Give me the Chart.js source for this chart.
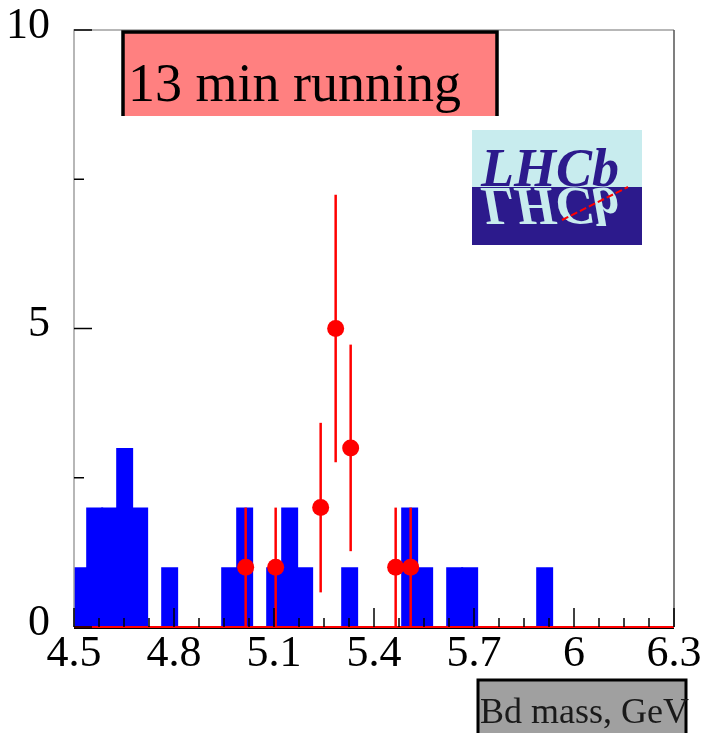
<!DOCTYPE html>
<html>
<head>
<meta charset="utf-8">
<script src="https://cdn.jsdelivr.net/npm/chart.js@4"></script>
<style>
  body { margin: 0; background: #fff; }
  canvas { display: block; }
</style>
</head>
<body>
<canvas id="chart" width="704" height="743"></canvas>
<script>
// Blue histogram: centres of the non-empty bins (GeV) and their entries
const binCenters = [4.517, 4.562, 4.607, 4.652, 4.697, 4.787, 4.967, 5.012, 5.102,
                    5.147, 5.192, 5.327, 5.507, 5.552, 5.642, 5.687, 5.912];
const binCounts  = [1, 2, 2, 3, 2, 1, 1, 2, 1, 2, 1, 1, 2, 1, 1, 1, 1];
// Red points with error bars
const massPoints = [5.015, 5.105, 5.24, 5.285, 5.33, 5.465, 5.51];
const massCounts = [1, 1, 2, 5, 3, 1, 1];
const massErrors = [1, 1, 1.42, 2.24, 1.73, 1, 1];
// Axes
const xTickLabels = [4.5, 4.8, 5.1, 5.4, 5.7, 6, 6.3];
const yTickLabels = [0, 5, 10];
const yMinorTicks = [2.5, 7.5];
const xMin = 4.5, xMax = 6.3;

const red = "#ff0000";
const blue = "#0000ff";
const serif = "'Liberation Serif', 'Times New Roman', serif";

// frame, ticks, error bars and the boxes
const decor = {
  id: "decor",
  beforeDatasetsDraw(chart) {
    const { ctx, chartArea: a } = chart;
    ctx.save();
    ctx.strokeStyle = "#000";
    ctx.lineWidth = 2;
    ctx.beginPath();
    ctx.moveTo(a.left, a.bottom + 1);
    ctx.lineTo(a.right, a.bottom + 1);
    ctx.stroke();
    ctx.restore();
  },
  afterDatasetsDraw(chart) {
    const { ctx, chartArea: a, scales: { x, y } } = chart;
    ctx.save();
    // error bars
    ctx.strokeStyle = red;
    ctx.lineWidth = 2.5;
    massPoints.forEach((m, i) => {
      const px = x.getPixelForValue(m);
      ctx.beginPath();
      ctx.moveTo(px, y.getPixelForValue(Math.max(0, massCounts[i] - massErrors[i])));
      ctx.lineTo(px, y.getPixelForValue(massCounts[i] + massErrors[i]));
      ctx.stroke();
    });
    // frame
    ctx.strokeStyle = "#a0a0a0";
    ctx.lineWidth = 1.5;
    ctx.beginPath();
    ctx.moveTo(a.left, a.bottom);
    ctx.lineTo(a.left, a.top);
    ctx.lineTo(a.right, a.top);
    ctx.stroke();
    ctx.strokeStyle = "#555";
    ctx.beginPath();
    ctx.moveTo(a.right, a.top);
    ctx.lineTo(a.right, a.bottom);
    ctx.stroke();
    // ticks
    ctx.strokeStyle = "#000";
    ctx.lineWidth = 1.5;
    const tick = (x1, y1, x2, y2) => {
      ctx.beginPath(); ctx.moveTo(x1, y1); ctx.lineTo(x2, y2); ctx.stroke();
    };
    for (let i = 0; i < xTickLabels.length; i++) {
      const px = x.getPixelForValue(xTickLabels[i]);
      tick(px, a.bottom, px, a.bottom - 19);
      if (i < xTickLabels.length - 1) {
        const step = (xTickLabels[i + 1] - xTickLabels[i]) / 4;
        for (let j = 1; j < 4; j++) {
          const mx = x.getPixelForValue(xTickLabels[i] + j * step);
          tick(mx, a.bottom, mx, a.bottom - 9);
        }
      }
    }
    yTickLabels.forEach(v => {
      const py = y.getPixelForValue(v);
      tick(a.left, py, a.left + 18, py);
    });
    yMinorTicks.forEach(v => {
      const py = y.getPixelForValue(v);
      tick(a.left, py, a.left + 10, py);
    });
    ctx.restore();
  },
  afterDraw(chart) {
    const { ctx } = chart;
    ctx.save();
    // title box
    ctx.fillStyle = "#ff8080";
    ctx.fillRect(122, 31, 376, 85);
    ctx.strokeStyle = "#000";
    ctx.lineWidth = 3.5;
    ctx.beginPath();
    ctx.moveTo(123, 116);
    ctx.lineTo(123, 32);
    ctx.lineTo(497, 32);
    ctx.lineTo(497, 116);
    ctx.stroke();
    ctx.fillStyle = "#000";
    ctx.font = "54px " + serif;
    ctx.textBaseline = "alphabetic";
    ctx.fillText("13 min running", 128, 101);

    // LHCb logo
    const top = 130, mid = 187, bot = 245, lx = 472, lw = 170;
    ctx.fillStyle = "#c8ecee";
    ctx.fillRect(lx, top, lw, mid - top);
    ctx.fillStyle = "#2c1a8c";
    ctx.fillRect(lx, mid, lw, bot - mid);
    ctx.font = "bold italic 54px " + serif;
    ctx.fillStyle = "#2c1a8c";
    ctx.fillText("LHCb", 481, mid - 1);
    ctx.save();
    ctx.translate(0, 2 * mid + 1);
    ctx.scale(1, -1);
    ctx.fillStyle = "#c8ecee";
    ctx.fillText("LHCb", 481, mid);
    ctx.restore();
    ctx.strokeStyle = red;
    ctx.lineWidth = 2;
    ctx.setLineDash([7, 3]);
    ctx.beginPath();
    ctx.moveTo(562, 220);
    ctx.lineTo(628, 187);
    ctx.stroke();
    ctx.setLineDash([]);

    // axis title box
    ctx.fillStyle = "#a0a0a0";
    ctx.fillRect(477, 679, 210, 54);
    ctx.strokeStyle = "#000";
    ctx.lineWidth = 3;
    ctx.beginPath();
    ctx.moveTo(478, 733);
    ctx.lineTo(478, 680);
    ctx.lineTo(686, 680);
    ctx.lineTo(686, 733);
    ctx.stroke();
    ctx.fillStyle = "#1a1a1a";
    ctx.font = "36px " + serif;
    ctx.fillText("Bd mass, GeV", 480, 723);
    ctx.restore();
  }
};

new Chart(document.getElementById("chart"), {
  type: "bar",
  data: {
    datasets: [
      {
        type: "scatter",
        data: massPoints.map((m, i) => ({ x: m, y: massCounts[i] })),
        backgroundColor: red,
        borderWidth: 0,
        pointRadius: 8.5,
        order: 1,
      },
      {
        type: "line",
        data: [{ x: xMin, y: 0 }, { x: xMax, y: 0 }],
        borderColor: red,
        borderWidth: 2,
        pointRadius: 0,
        clip: false,
        order: 2,
      },
      {
        type: "bar",
        data: binCenters.map((c, i) => ({ x: c, y: binCounts[i] })),
        backgroundColor: blue,
        borderWidth: 0,
        barPercentage: 1.13,
        categoryPercentage: 1,
        order: 3,
      },
    ],
  },
  options: {
    responsive: false,
    animation: false,
    layout: { padding: { top: 30, right: 30, left: 0, bottom: 0 } },
    plugins: { legend: { display: false }, tooltip: { enabled: false } },
    scales: {
      x: {
        type: "linear",
        min: xMin,
        max: xMax,
        offset: false,
        grid: { display: false, drawTicks: false },
        border: { display: false },
        afterBuildTicks: s => { s.ticks = xTickLabels.map(v => ({ value: v })); },
        afterFit: s => { s.height = 116; s.paddingLeft = 0; s.paddingRight = 0; },
        ticks: {
          font: { family: serif, size: 44 },
          color: "#000",
          padding: 1,
          maxRotation: 0,
          autoSkip: false,
          callback: v => String(v),
        },
      },
      y: {
        min: 0,
        max: 10,
        grid: { display: false, drawTicks: false },
        border: { display: false },
        afterBuildTicks: s => { s.ticks = yTickLabels.map(v => ({ value: v })); },
        afterFit: s => { s.width = 74; s.paddingTop = 0; s.paddingBottom = 0; },
        ticks: {
          font: { family: serif, size: 44 },
          color: "#000",
          padding: 24,
          labelOffset: -4,
          callback: v => String(v),
        },
      },
    },
  },
  plugins: [decor],
});
</script>
</body>
</html>
